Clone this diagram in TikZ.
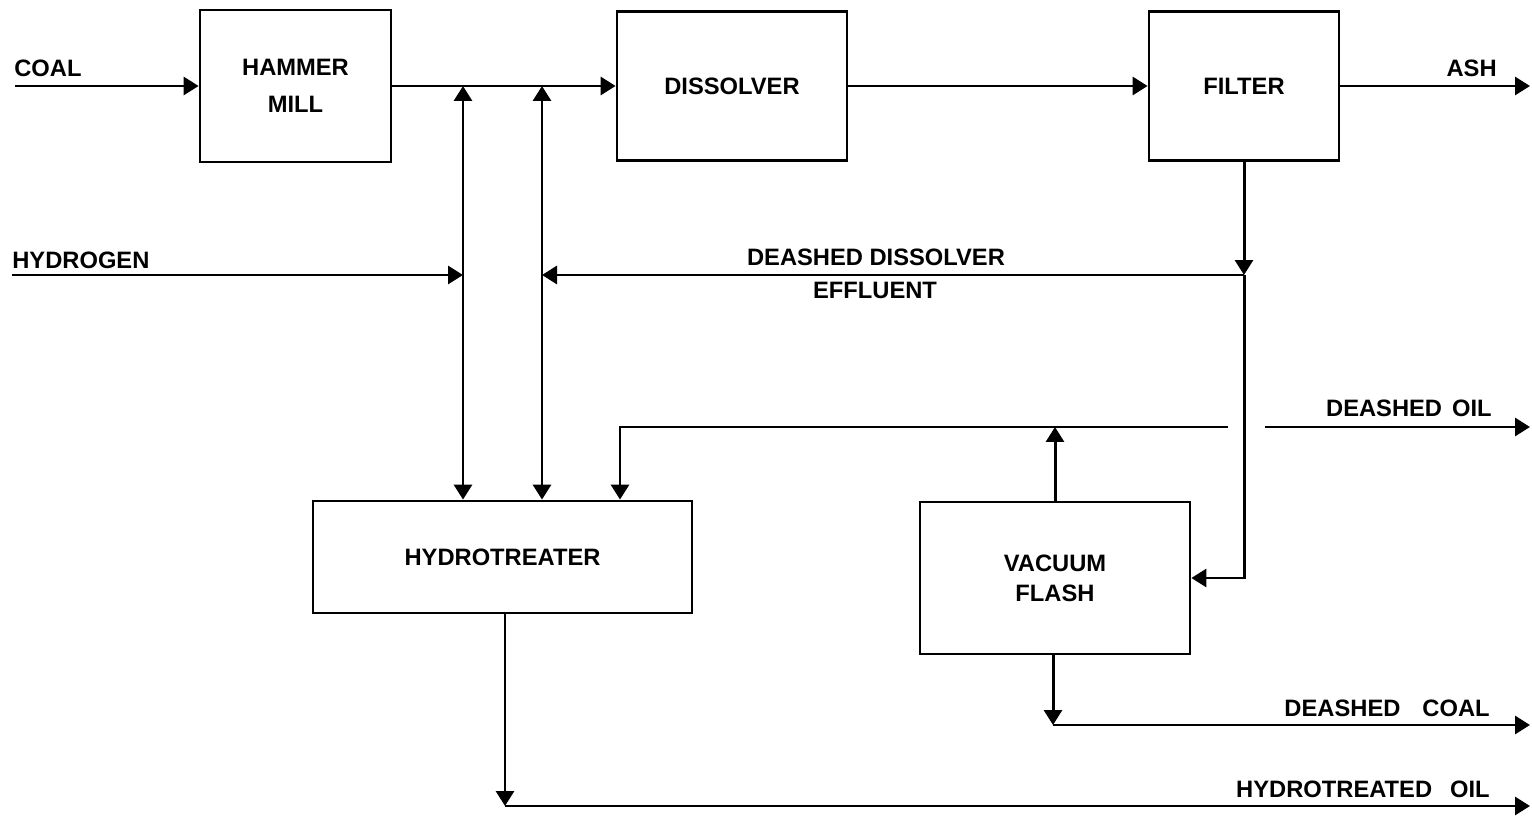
\documentclass[tikz,border=0pt]{standalone}
\usepackage{fontspec}
\setmainfont{Liberation Sans}
\usetikzlibrary{arrows.meta}
\begin{document}
\begin{tikzpicture}[x=0.02cm,y=-0.02cm,
  font=\fontsize{13.5}{21}\selectfont\bfseries,
  flow/.style={line width=1.7pt},
  arr/.style={flow,-{Triangle[length=0.3cm,width=0.36cm]}},
  darr/.style={flow,{Triangle[length=0.3cm,width=0.36cm]}-{Triangle[length=0.3cm,width=0.36cm]}},
  unit/.style={draw,line width=1.6pt,align=center,inner sep=0pt},
  lbl/.style={inner sep=0pt}]
\useasboundingbox (0,0) rectangle (1532,817);
% units
\node[unit,minimum width=3.82cm,minimum height=3.04cm] (hm) at (295.5,86) {HAMMER\\MILL};
\node[unit,minimum width=4.6cm,minimum height=2.98cm] (dis) at (732,86) {DISSOLVER};
\node[unit,minimum width=3.8cm,minimum height=2.98cm] (fil) at (1244,86) {FILTER};
\node[unit,minimum width=7.58cm,minimum height=2.24cm] (hyd) at (502.5,557) {HYDROTREATER};
\node[unit,minimum width=5.4cm,minimum height=3.04cm,font=\fontsize{13.5}{17}\selectfont\bfseries] (vf) at (1055,578) {VACUUM\\FLASH};
% coordinates
\coordinate (coalin) at (15,86);
\coordinate (h2in) at (12,275);
\coordinate (j1t) at (463,86);
\coordinate (j2t) at (542,86);
\coordinate (j1h) at (463,275);
\coordinate (j2h) at (542,275);
\coordinate (j1b) at (j1t |- hyd.north);
\coordinate (j2b) at (j2t |- hyd.north);
\coordinate (fj) at (fil.south |- j2h);
\coordinate (fv) at (fil.south |- vf.east);
\coordinate (oilL) at (620,427);
\coordinate (oilR) at (1228,427);
\coordinate (oilB) at (oilL |- hyd.north);
\coordinate (vft) at (vf.north |- oilL);
\coordinate (oilout0) at (1265,427);
\coordinate (oilout) at (1530,427);
\coordinate (ashout) at (1530,86);
\coordinate (vfb0) at (1053,654);
\coordinate (vfb) at (1053,725);
\coordinate (coalout) at (1530,725);
\coordinate (hyb0) at (505,613);
\coordinate (hyb) at (505,806);
\coordinate (hyout) at (1530,806);
% connectors
\draw[arr] (coalin) -- (hm.west);
\draw[arr] (hm.east) -- (dis.west);
\draw[arr] (dis.east) -- (fil.west);
\draw[arr] (fil.east) -- (ashout);
\draw[darr] (j1t) -- (j1b);
\draw[darr] (j2t) -- (j2b);
\draw[arr] (h2in) -- (j1h);
\draw[arr] (fil.south) -- (fj);
\draw[arr] (fj) -- (j2h);
\draw[arr] (fj) -- (fv) -- (vf.east);
\draw[arr] (oilR) -- (oilL) -- (oilB);
\draw[arr] (vf.north) -- (vft);
\draw[arr] (oilout0) -- (oilout);
\draw[arr] (vfb0) -- (vfb);
\draw[arr] (vfb) -- (coalout);
\draw[arr] (hyb0) -- (hyb);
\draw[arr] (hyb) -- (hyout);
% labels
\node[lbl,anchor=base west] (lcoal) at (14,76.5) {COAL};
\node[lbl,anchor=base west] (lh2) at (12,268.5) {HYDROGEN};
\node[lbl,anchor=base east] (lash) at (1497,76.5) {ASH};
\node[lbl,anchor=base] (ldd) at (876,265.5) {DEASHED DISSOLVER};
\node[lbl,anchor=base] (leff) at (875,298.5) {EFFLUENT};
\node[lbl,anchor=base east] (loil) at (1492,416.5) {DEASHED\hspace{0.2cm}OIL};
\node[lbl,anchor=base east] (lcoalout) at (1490,716.5) {DEASHED\hspace{0.44cm}COAL};
\node[lbl,anchor=base east] (lhyo) at (1490,797.5) {HYDROTREATED\hspace{0.36cm}OIL};
\end{tikzpicture}
\end{document}
